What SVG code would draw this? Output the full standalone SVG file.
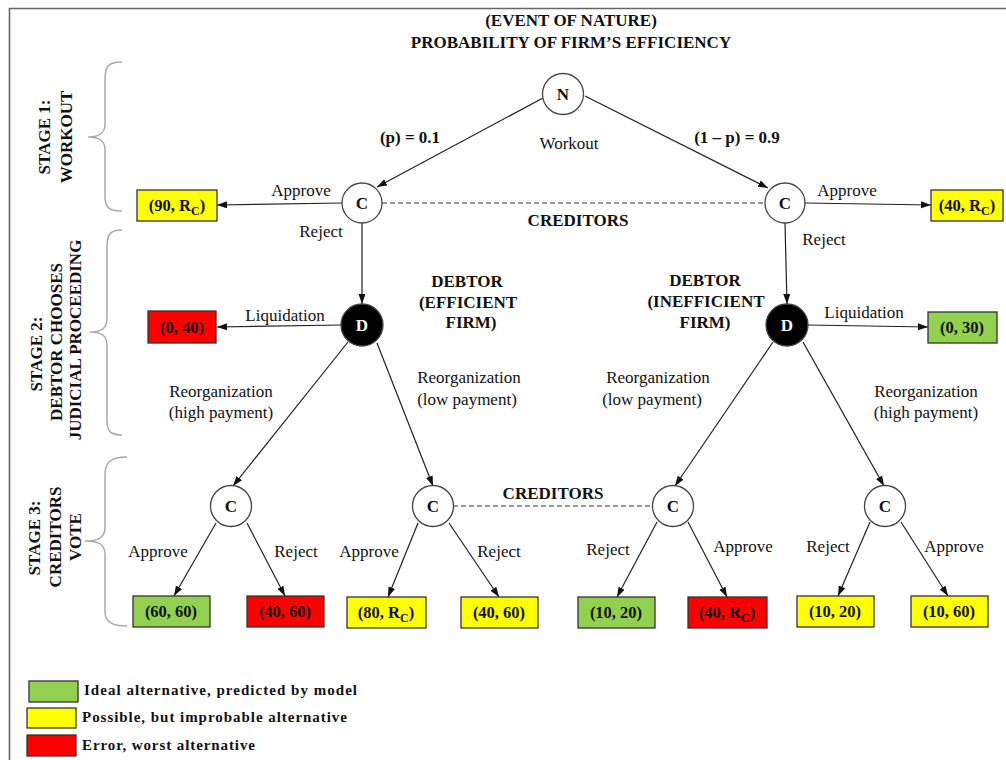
<svg xmlns="http://www.w3.org/2000/svg" width="1006" height="760" viewBox="0 0 1006 760">
<style>
text{font-family:"Liberation Serif","Times New Roman",serif;fill:#111}
.b{font-weight:bold}
.lbl{font-size:17px}
.bl{font-size:17px;font-weight:bold}
.box{font-size:16.5px;font-weight:bold}
.leg{font-size:15px;font-weight:bold}
.edge{stroke:#222;stroke-width:1.2;fill:none}
.dash{stroke:#333;stroke-width:1.2;stroke-dasharray:5 3;fill:none}
.circ{fill:#fff;stroke:#444;stroke-width:1.3}
.dnode{fill:#000;stroke:#444;stroke-width:1.3}
.brace{fill:none;stroke:#aaa;stroke-width:1.5}
.g{fill:#92D050;stroke:#333;stroke-width:1.3}
.y{fill:#FFFF00;stroke:#333;stroke-width:1.3}
.r{fill:#FF0000;stroke:#333;stroke-width:1.3}
</style>
<defs>
<marker id="ah" markerWidth="11" markerHeight="8" refX="10" refY="3.5" orient="auto" markerUnits="userSpaceOnUse">
<path d="M0,0 L10,3.5 L0,7 z" fill="#111"/>
</marker>
</defs>
<rect x="0" y="0" width="1006" height="760" fill="#fff"/>
<path d="M9.5,760 L9.5,8.5 L1006,8.5" fill="none" stroke="#666" stroke-width="1.6"/>

<g id="title">
<text x="571" y="26" text-anchor="middle" class="bl">(EVENT OF NATURE)</text>
<text x="571" y="48" text-anchor="middle" class="bl">PROBABILITY OF FIRM’S EFFICIENCY</text>
</g>

<g id="stages">
<path class="brace" d="M122,62 C108,62 105,66 105,80 L105,124 C105,133 100,137 88,137 C100,137 105,141 105,150 L105,196 C105,207 108,211 122,211"/>
<text transform="translate(50,137) rotate(-90)" text-anchor="middle" class="bl">STAGE 1:</text>
<text transform="translate(72,137) rotate(-90)" text-anchor="middle" class="bl">WORKOUT</text>
<path class="brace" d="M122,230 C110,230 107,234 107,248 L107,318 C107,328 102,332 90,332 C102,332 107,336 107,346 L107,420 C107,431 110,435 122,435"/>
<text transform="translate(42,354) rotate(-90)" text-anchor="middle" class="bl">STAGE 2:</text>
<text transform="translate(62,342) rotate(-90)" text-anchor="middle" class="bl">DEBTOR CHOOSES</text>
<text transform="translate(81,340) rotate(-90)" text-anchor="middle" class="bl">JUDICIAL PROCEEDING</text>
<path class="brace" d="M127,457 C112,457 105,461 105,475 L105,527 C105,537 100,541 85,541 C100,541 105,545 105,555 L105,611 C105,622 112,626 127,626"/>
<text transform="translate(40,538) rotate(-90)" text-anchor="middle" class="bl">STAGE 3:</text>
<text transform="translate(61,537) rotate(-90)" text-anchor="middle" class="bl">CREDITORS</text>
<text transform="translate(81,537) rotate(-90)" text-anchor="middle" class="bl">VOTE</text>
</g>

<g id="connectors">
<line class="edge" x1="543" y1="98" x2="377" y2="187" marker-end="url(#ah)"/>
<line class="edge" x1="585" y1="96" x2="768" y2="188" marker-end="url(#ah)"/>
<line class="dash" x1="382" y1="203" x2="765" y2="203"/>
<line class="edge" x1="342" y1="203" x2="217" y2="205" marker-end="url(#ah)"/>
<line class="edge" x1="805" y1="203" x2="931" y2="205" marker-end="url(#ah)"/>
<line class="edge" x1="362" y1="223" x2="362" y2="304" marker-end="url(#ah)"/>
<line class="edge" x1="785" y1="223" x2="787" y2="304" marker-end="url(#ah)"/>
<line class="edge" x1="341" y1="325" x2="217" y2="327" marker-end="url(#ah)"/>
<line class="edge" x1="808" y1="325" x2="928" y2="327" marker-end="url(#ah)"/>
<line class="edge" x1="348" y1="342" x2="233" y2="486" marker-end="url(#ah)"/>
<line class="edge" x1="377" y1="343" x2="433" y2="486" marker-end="url(#ah)"/>
<line class="edge" x1="773" y1="342" x2="675" y2="486" marker-end="url(#ah)"/>
<line class="edge" x1="803" y1="342" x2="884" y2="486" marker-end="url(#ah)"/>
<line class="dash" x1="453" y1="506" x2="653" y2="506"/>
<line class="edge" x1="216" y1="523" x2="174" y2="596" marker-end="url(#ah)"/>
<line class="edge" x1="247" y1="523" x2="285" y2="596" marker-end="url(#ah)"/>
<line class="edge" x1="418" y1="523" x2="388" y2="597" marker-end="url(#ah)"/>
<line class="edge" x1="449" y1="523" x2="499" y2="597" marker-end="url(#ah)"/>
<line class="edge" x1="657" y1="522" x2="617" y2="597" marker-end="url(#ah)"/>
<line class="edge" x1="688" y1="522" x2="727" y2="597" marker-end="url(#ah)"/>
<line class="edge" x1="870" y1="522" x2="838" y2="596" marker-end="url(#ah)"/>
<line class="edge" x1="901" y1="522" x2="948" y2="596" marker-end="url(#ah)"/>
</g>

<g id="edge-labels">
<text x="410" y="143" text-anchor="middle" class="bl">(p) = 0.1</text>
<text x="737" y="143" text-anchor="middle" class="bl">(1 – p) = 0.9</text>
<text x="569" y="149" text-anchor="middle" class="lbl">Workout</text>
<text x="301" y="196" text-anchor="middle" class="lbl">Approve</text>
<text x="847" y="196" text-anchor="middle" class="lbl">Approve</text>
<text x="578" y="226" text-anchor="middle" class="bl">CREDITORS</text>
<text x="321" y="237" text-anchor="middle" class="lbl">Reject</text>
<text x="824" y="245" text-anchor="middle" class="lbl">Reject</text>
<text x="285" y="321" text-anchor="middle" class="lbl">Liquidation</text>
<text x="864" y="318" text-anchor="middle" class="lbl">Liquidation</text>
<text x="467" y="287" text-anchor="middle" class="bl">DEBTOR</text>
<text x="468" y="308" text-anchor="middle" class="bl">(EFFICIENT</text>
<text x="471" y="328" text-anchor="middle" class="bl">FIRM)</text>
<text x="705" y="286" text-anchor="middle" class="bl">DEBTOR</text>
<text x="706" y="307" text-anchor="middle" class="bl">(INEFFICIENT</text>
<text x="705" y="328" text-anchor="middle" class="bl">FIRM)</text>
<text x="221" y="397" text-anchor="middle" class="lbl">Reorganization</text>
<text x="221" y="418" text-anchor="middle" class="lbl">(high payment)</text>
<text x="469" y="383" text-anchor="middle" class="lbl">Reorganization</text>
<text x="467" y="405" text-anchor="middle" class="lbl">(low payment)</text>
<text x="658" y="383" text-anchor="middle" class="lbl">Reorganization</text>
<text x="652" y="405" text-anchor="middle" class="lbl">(low payment)</text>
<text x="926" y="397" text-anchor="middle" class="lbl">Reorganization</text>
<text x="926" y="418" text-anchor="middle" class="lbl">(high payment)</text>
<text x="553" y="499" text-anchor="middle" class="bl">CREDITORS</text>
<text x="158" y="557" text-anchor="middle" class="lbl">Approve</text>
<text x="296" y="557" text-anchor="middle" class="lbl">Reject</text>
<text x="369" y="557" text-anchor="middle" class="lbl">Approve</text>
<text x="499" y="557" text-anchor="middle" class="lbl">Reject</text>
<text x="608" y="555" text-anchor="middle" class="lbl">Reject</text>
<text x="743" y="552" text-anchor="middle" class="lbl">Approve</text>
<text x="828" y="552" text-anchor="middle" class="lbl">Reject</text>
<text x="954" y="552" text-anchor="middle" class="lbl">Approve</text>
</g>

<g id="node-N"><circle class="circ" cx="563" cy="94" r="20.5"/><text x="563" y="100" text-anchor="middle" class="bl">N</text></g>
<g id="node-C1"><circle class="circ" cx="362" cy="203" r="20"/><text x="362" y="209" text-anchor="middle" class="bl">C</text></g>
<g id="node-C2"><circle class="circ" cx="785" cy="203" r="20"/><text x="785" y="209" text-anchor="middle" class="bl">C</text></g>
<g id="node-D1"><circle class="dnode" cx="362" cy="325" r="21"/><text x="362" y="331" text-anchor="middle" class="bl" style="fill:#fff">D</text></g>
<g id="node-D2"><circle class="dnode" cx="787" cy="325" r="21"/><text x="787" y="331" text-anchor="middle" class="bl" style="fill:#fff">D</text></g>
<g id="node-C3"><circle class="circ" cx="231" cy="506" r="20.5"/><text x="231" y="512" text-anchor="middle" class="bl">C</text></g>
<g id="node-C4"><circle class="circ" cx="433" cy="506" r="20.5"/><text x="433" y="512" text-anchor="middle" class="bl">C</text></g>
<g id="node-C5"><circle class="circ" cx="673" cy="506" r="20.5"/><text x="673" y="512" text-anchor="middle" class="bl">C</text></g>
<g id="node-C6"><circle class="circ" cx="885" cy="506" r="20.5"/><text x="885" y="512" text-anchor="middle" class="bl">C</text></g>

<g id="leaf-90Rc"><rect class="y" x="137" y="190" width="80" height="31"/><text x="177" y="211" text-anchor="middle" class="box">(90, R<tspan font-size="12" dy="4">C</tspan><tspan dy="-4">)</tspan></text></g>
<g id="leaf-40Rc-top"><rect class="y" x="931" y="190" width="72" height="31"/><text x="967" y="211" text-anchor="middle" class="box">(40, R<tspan font-size="12" dy="4">C</tspan><tspan dy="-4">)</tspan></text></g>
<g id="leaf-0-40"><rect class="r" x="148" y="311" width="68" height="32"/><text x="182" y="333" text-anchor="middle" class="box">(0, 40)</text></g>
<g id="leaf-0-30"><rect class="g" x="928" y="312" width="69" height="31"/><text x="962" y="333" text-anchor="middle" class="box">(0, 30)</text></g>
<g id="leaf-60-60"><rect class="g" x="133" y="596" width="77" height="31"/><text x="171" y="617" text-anchor="middle" class="box">(60, 60)</text></g>
<g id="leaf-40-60a"><rect class="r" x="247" y="596" width="77" height="31"/><text x="285" y="617" text-anchor="middle" class="box">(40, 60)</text></g>
<g id="leaf-80Rc"><rect class="y" x="347" y="597" width="79" height="31"/><text x="386" y="618" text-anchor="middle" class="box">(80, R<tspan font-size="12" dy="4">C</tspan><tspan dy="-4">)</tspan></text></g>
<g id="leaf-40-60b"><rect class="y" x="461" y="597" width="77" height="31"/><text x="499" y="618" text-anchor="middle" class="box">(40, 60)</text></g>
<g id="leaf-10-20a"><rect class="g" x="578" y="597" width="77" height="31"/><text x="616" y="618" text-anchor="middle" class="box">(10, 20)</text></g>
<g id="leaf-40Rc"><rect class="r" x="688" y="597" width="79" height="31"/><text x="727" y="618" text-anchor="middle" class="box">(40, R<tspan font-size="12" dy="4">C</tspan><tspan dy="-4">)</tspan></text></g>
<g id="leaf-10-20b"><rect class="y" x="797" y="596" width="77" height="31"/><text x="835" y="617" text-anchor="middle" class="box">(10, 20)</text></g>
<g id="leaf-10-60"><rect class="y" x="911" y="596" width="77" height="31"/><text x="949" y="617" text-anchor="middle" class="box">(10, 60)</text></g>

<g id="legend">
<rect class="g" x="29" y="681" width="49" height="21"/>
<text x="84" y="695" class="leg" textLength="273" lengthAdjust="spacing">Ideal alternative, predicted by model</text>
<rect class="y" x="27" y="708" width="49" height="20"/>
<text x="82" y="722" class="leg" textLength="265" lengthAdjust="spacing">Possible, but improbable alternative</text>
<rect class="r" x="27" y="735" width="49" height="21"/>
<text x="82" y="750" class="leg" textLength="173" lengthAdjust="spacing">Error, worst alternative</text>
</g>
</svg>
